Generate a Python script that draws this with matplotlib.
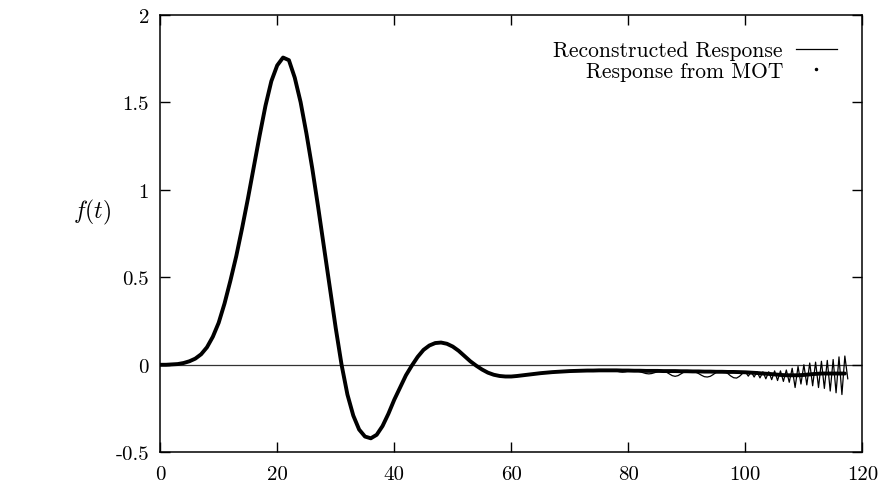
import numpy as np
import matplotlib
matplotlib.use("Agg")
import matplotlib.pyplot as plt
from matplotlib.lines import Line2D

plt.rcParams['font.family'] = ['cmr10', 'DejaVu Serif']
plt.rcParams['mathtext.fontset'] = 'cm'
plt.rcParams['axes.unicode_minus'] = False

# response from MOT, sampled at t = 0, 1, 2, ...
mot = [0.0, 0.0, 0.002, 0.004, 0.01, 0.02, 0.035, 0.06, 0.10, 0.16,
       0.24, 0.35, 0.48, 0.62, 0.78, 0.95, 1.13, 1.31, 1.48, 1.62,
       1.71, 1.755, 1.74, 1.64, 1.50, 1.32, 1.12, 0.90, 0.67, 0.44,
       0.21, 0.0, -0.17, -0.29, -0.37, -0.41, -0.42, -0.40, -0.35, -0.28,
       -0.20, -0.13, -0.06, -0.005, 0.045, 0.085, 0.11, 0.124, 0.127, 0.12,
       0.104, 0.08, 0.05, 0.02, -0.005, -0.027, -0.045, -0.057, -0.064, -0.067,
       -0.067, -0.064, -0.06, -0.056, -0.052, -0.048, -0.045, -0.042, -0.04, -0.038,
       -0.036, -0.035, -0.034, -0.033, -0.033, -0.032, -0.032, -0.032, -0.032, -0.033,
       -0.033, -0.034, -0.034, -0.035, -0.035, -0.035, -0.036, -0.036, -0.036, -0.037,
       -0.037, -0.038, -0.038, -0.039, -0.039, -0.040, -0.040, -0.041, -0.041, -0.042,
       -0.043, -0.045, -0.047, -0.05, -0.052, -0.055, -0.058, -0.06, -0.06, -0.06,
       -0.058, -0.055, -0.052, -0.05, -0.05, -0.05, -0.05, -0.05]
t_mot = np.arange(len(mot))

# reconstructed response: same as MOT up to t=74, then finer samples (step 0.5 from t=75)
rec_tail = [-0.033, -0.033, -0.033, -0.033, -0.033, -0.034, -0.036, -0.04, -0.042, -0.04,
            -0.036, -0.034, -0.034, -0.036, -0.04, -0.045, -0.05, -0.052, -0.05, -0.045,
            -0.04, -0.036, -0.036, -0.042, -0.052, -0.062, -0.066, -0.062, -0.052, -0.042,
            -0.036, -0.034, -0.036, -0.042, -0.05, -0.06, -0.068, -0.07, -0.066, -0.056,
            -0.044, -0.036, -0.034, -0.038, -0.05, -0.064, -0.074, -0.076, -0.066, -0.05,
            -0.04, -0.065, -0.04, -0.07, -0.04, -0.075, -0.04, -0.08, -0.04, -0.085,
            -0.035, -0.09, -0.035, -0.095, -0.03, -0.1, -0.02, -0.13, -0.01, -0.11,
            0.0, -0.115, 0.01, -0.12, 0.015, -0.13, 0.02, -0.135, 0.025, -0.15,
            0.03, -0.16, 0.045, -0.17, 0.05, -0.08]
t_rec = np.concatenate([t_mot[:75], 75 + 0.5 * np.arange(len(rec_tail))])
rec = np.concatenate([mot[:75], rec_tail])

xticks = [0, 20, 40, 60, 80, 100, 120]
yticks = [-0.5, 0, 0.5, 1, 1.5, 2]
ytick_labels = ['-0.5', '0', '0.5', '1', '1.5', '2']

fig = plt.figure(figsize=(8.8, 4.89), dpi=100)
ax = fig.add_axes([0.182, 0.073, 0.798, 0.895])

ax.axhline(0, color='#333333', lw=0.9, zorder=1)
ax.plot(t_mot, mot, color='black', lw=2.8, solid_capstyle='round',
        solid_joinstyle='round', zorder=2)
ax.plot(t_rec, rec, color='black', lw=0.9, zorder=3)

ax.set_xlim(0, 120)
ax.set_ylim(-0.5, 2)
ax.set_xticks(xticks)
ax.set_xticklabels([str(x) for x in xticks])
ax.set_yticks(yticks)
ax.set_yticklabels(ytick_labels)
ax.tick_params(direction='in', length=7, width=1, top=True, right=True, labelsize=15)
ax.tick_params(axis='x', pad=9)
ax.tick_params(axis='y', pad=8)
for s in ax.spines.values():
    s.set_linewidth(1.1)

ax.set_ylabel('$f(t)$', rotation=0, fontsize=17, va='center')
ax.yaxis.set_label_coords(-0.097, 0.55)

handles = [Line2D([], [], color='black', lw=0.9),
           Line2D([], [], color='black', ls='none', marker='.', ms=3)]
leg = ax.legend(handles, ['Reconstructed Response', 'Response from MOT'],
                loc='upper right', frameon=False, markerfirst=False, fontsize=15.5,
                handlelength=1.9, handletextpad=0.6, labelspacing=0.05,
                borderaxespad=0.3, bbox_to_anchor=(0.985, 0.975))
for col in leg._legend_handle_box.get_children():
    col.align = 'right'

fig.savefig('out.png', dpi=100)
